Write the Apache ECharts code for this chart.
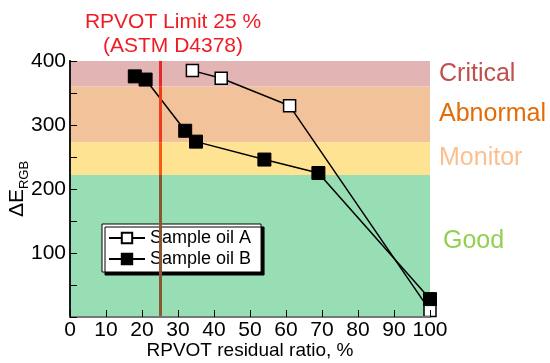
<!DOCTYPE html>
<html lang="en">
<head>
    <meta charset="UTF-8">
    <title>RPVOT vs ΔE</title>
    <script src="https://cdn.jsdelivr.net/npm/echarts/dist/echarts.min.js"></script>
    <style>
        html, body { margin: 0; padding: 0; background: #fff; }
        #chart { width: 550px; height: 363px; }
    </style>
</head>
<body>
    <div id="chart"></div>
    <script>
        // sample oil A (open squares)
        var ratioA = [34, 42, 61, 100];
        var deltaA = [385, 373, 330, 10];
        // sample oil B (filled squares)
        var ratioB = [18, 21, 32, 35, 54, 69, 100];
        var deltaB = [376, 371, 291, 274, 246, 225, 28];

        // condition zones
        var zoneNames = ['Critical', 'Abnormal', 'Monitor', 'Good'];
        var zoneLow = [360, 273, 222, 0];
        var zoneHigh = [400, 360, 273, 222];
        var limitRatio = 25;

        var zoneFill = ['#e3b4b4', '#f2c29a', '#fee392', '#97deb5'];
        var zoneText = ['#c0504d', '#e36c09', '#fac090', '#92d050'];
        var limitColor = ['#e5282a', '#ef3a1e', '#f85a12', '#8b5632'];

        var font = 'Liberation Sans, Arial, sans-serif';

        function pairs(xs, ys) {
            return xs.map(function (x, i) { return [x, ys[i]]; });
        }

        var areas = zoneNames.map(function (name, i) {
            return [{
                name: name,
                xAxis: 0,
                yAxis: zoneLow[i],
                itemStyle: { color: zoneFill[i] },
                label: {
                    show: true, position: 'right', distance: 9,
                    color: zoneText[i], fontSize: 25, fontFamily: font,
                    offset: i === 3 ? [4, -5] : [0, 0]
                }
            }, { xAxis: 100, yAxis: zoneHigh[i] }];
        });

        var limitSegs = zoneNames.map(function (name, i) {
            return [{
                coord: [limitRatio, zoneLow[i]],
                lineStyle: { color: limitColor[i], width: 3, type: 'solid' }
            }, { coord: [limitRatio, zoneHigh[i]] }];
        });

        var chart = echarts.init(document.getElementById('chart'));
        chart.setOption({
            animation: false,
            textStyle: { fontFamily: font },
            title: {
                text: 'RPVOT Limit 25 %\n(ASTM D4378)',
                left: 168, top: 5, textAlign: 'center',
                textStyle: { color: '#ee1c24', fontSize: 21, fontWeight: 'normal', lineHeight: 24, fontFamily: font }
            },
            grid: { left: 70, top: 61, width: 360, height: 256, outerBoundsMode: 'none', containLabel: false },
            legend: {
                data: ['Sample oil A', 'Sample oil B'],
                orient: 'vertical',
                left: 102, top: 224,
                padding: [5, 10, 4, 6],
                itemWidth: 36, itemHeight: 13, itemGap: 3,
                backgroundColor: '#fff',
                borderColor: '#000', borderWidth: 1,
                shadowColor: '#000', shadowBlur: 0, shadowOffsetX: 3, shadowOffsetY: 3,
                textStyle: { fontSize: 18, color: '#000', fontFamily: font }
            },
            xAxis: [{
                type: 'value', min: 0, max: 100, interval: 10, z: 5,
                name: 'RPVOT residual ratio, %', nameLocation: 'middle', nameGap: 24,
                nameMoveOverlap: false,
                nameTextStyle: { fontSize: 19, color: '#000' },
                axisLine: { lineStyle: { color: '#000', width: 1.5 } },
                axisTick: { inside: true, length: 7, lineStyle: { color: '#000' } },
                axisLabel: { fontSize: 21, color: '#000', margin: 3 },
                splitLine: { show: false }
            }, {
                type: 'value', min: 0, max: 100, position: 'top', z: 5,
                axisLine: { show: true, lineStyle: { color: '#777', width: 2 } },
                axisTick: { show: false }, axisLabel: { show: false }, splitLine: { show: false }
            }],
            yAxis: [{
                type: 'value', min: 0, max: 400, interval: 100, z: 5,
                name: '{a|ΔE}{b|RGB}', nameLocation: 'middle', nameGap: 42, nameRotate: 90,
                nameMoveOverlap: false,
                nameTextStyle: {
                    rich: {
                        a: { fontSize: 21, color: '#000', fontFamily: font },
                        b: { fontSize: 13, color: '#000', fontFamily: font, verticalAlign: 'bottom', padding: [0, 0, -3, 0] }
                    }
                },
                axisLine: { show: true, lineStyle: { color: '#000', width: 2 } },
                axisTick: { inside: true, length: 7, lineStyle: { color: '#000' } },
                minorTick: { show: true, splitNumber: 2, length: 7, lineStyle: { color: '#000' } },
                axisLabel: {
                    fontSize: 21, color: '#000', margin: 4,
                    formatter: function (v) { return v === 0 ? '' : String(v); }
                },
                splitLine: { show: false }
            }, {
                type: 'value', min: 0, max: 400, position: 'right', z: 5,
                axisLine: { show: true, lineStyle: { color: '#222', width: 1.5 } },
                axisTick: { show: false }, axisLabel: { show: false }, splitLine: { show: false }
            }],
            series: [
                {
                    name: 'zones', type: 'line', data: [], z: 1, silent: true,
                    markArea: { silent: true, data: areas },
                    markLine: { silent: true, symbol: 'none', label: { show: false }, data: limitSegs }
                },
                {
                    name: 'Sample oil A', type: 'line', z: 3,
                    data: pairs(ratioA, deltaA),
                    symbol: 'rect', symbolSize: 12,
                    lineStyle: { color: '#000', width: 1.5 },
                    itemStyle: { color: '#fff', borderColor: '#000', borderWidth: 1.5 }
                },
                {
                    name: 'Sample oil B', type: 'line', z: 4,
                    data: pairs(ratioB, deltaB),
                    symbol: 'rect', symbolSize: 13,
                    lineStyle: { color: '#000', width: 1.5 },
                    itemStyle: { color: '#000', borderColor: '#000', borderWidth: 1 }
                }
            ]
        });
    </script>
</body>
</html>
